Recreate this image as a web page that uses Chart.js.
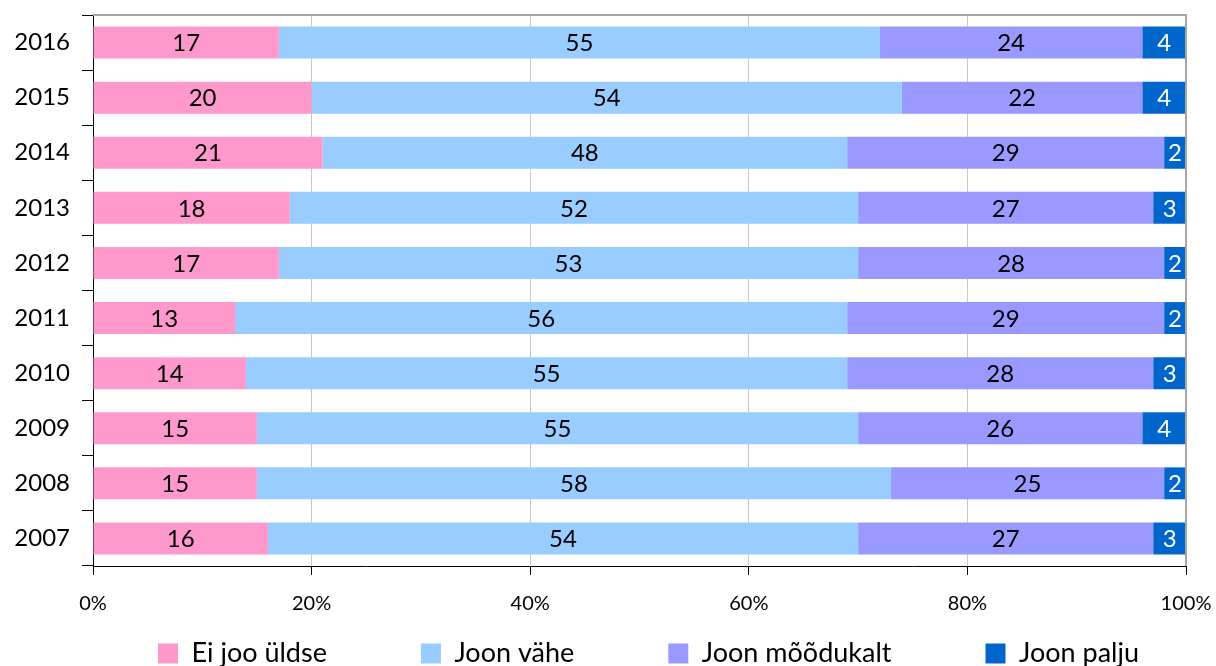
<!DOCTYPE html>
<html>
<head>
<meta charset="utf-8">
<script src="https://cdn.jsdelivr.net/npm/chart.js@4/dist/chart.umd.min.js"></script>
<style>
html,body{margin:0;padding:0;overflow:hidden;background:#fff;width:1216px;height:666px}
#wrap{position:absolute;left:0;top:0;width:1400px;height:700px}
</style>
</head>
<body>
<div id="wrap"><canvas id="c" width="1400" height="700"></canvas></div>
<script>
// ---- data ----
const years = ['2016','2015','2014','2013','2012','2011','2010','2009','2008','2007'];
const eiJooUldse    = [17, 20, 21, 18, 17, 13, 14, 15, 15, 16];
const joonVahe      = [55, 54, 48, 52, 53, 56, 55, 55, 58, 54];
const joonMoodukalt = [24, 22, 29, 27, 28, 29, 28, 26, 25, 27];
const joonPalju     = [ 4,  4,  2,  3,  2,  2,  3,  4,  2,  3];
const seriesNames   = ['Ei joo üldse', 'Joon vähe', 'Joon mõõdukalt', 'Joon palju'];
const seriesColors  = ['#FF99CC', '#99CCFF', '#9999FF', '#0066CC'];
const labelColors   = ['#000000', '#000000', '#000000', '#FFFFFF'];
const xTickValues   = [0, 20, 40, 60, 80, 100];

// ---- layout constants ----
const FONT = 'Lato, Carlito, Calibri, sans-serif';
const LEGEND_BOX_X = 158;
const LEGEND_ITEM_Y = 640;

Chart.defaults.font.family = FONT;
Chart.defaults.color = '#000';

const seriesData = [eiJooUldse, joonVahe, joonMoodukalt, joonPalju];

const barLabels = {
  id: 'barLabels',
  afterDatasetsDraw(chart) {
    const ctx = chart.ctx;
    const area = chart.chartArea;
    // plot frame (top & right)
    ctx.save();
    ctx.strokeStyle = '#a6a6a6';
    ctx.lineWidth = 2;
    ctx.beginPath();
    ctx.moveTo(area.left, area.top);
    ctx.lineTo(area.right, area.top);
    ctx.lineTo(area.right, area.bottom);
    ctx.stroke();
    ctx.restore();

    ctx.save();
    ctx.font = '24px ' + FONT;
    ctx.textAlign = 'center';
    ctx.textBaseline = 'middle';
    chart.data.datasets.forEach((ds, i) => {
      const meta = chart.getDatasetMeta(i);
      meta.data.forEach((bar, j) => {
        ctx.fillStyle = labelColors[i];
        ctx.fillText(String(ds.data[j]), (bar.x + bar.base) / 2, bar.y + 1);
      });
    });
    ctx.restore();
  }
};

const legendPlace = {
  id: 'legendPlace',
  afterLayout(chart) {
    const lg = chart.legend;
    if (!lg || !lg.lineWidths) return;
    const pad = lg.options.labels.padding;
    const R = 5000;
    const lw = lg.lineWidths[0];
    const left = (2 * LEGEND_BOX_X - pad - R + lw) / 2;
    lg.left = left;
    lg.right = left + R;
    lg.top = LEGEND_ITEM_Y - pad;
    lg.bottom = lg.top + pad + 60;
  }
};

new Chart(document.getElementById('c'), {
  type: 'bar',
  data: {
    labels: years,
    datasets: seriesNames.map((name, i) => ({
      label: name,
      data: seriesData[i],
      backgroundColor: seriesColors[i],
      borderWidth: 0,
      categoryPercentage: 1,
      barPercentage: 0.58
    }))
  },
  options: {
    indexAxis: 'y',
    responsive: false,
    animation: false,
    devicePixelRatio: 1,
    layout: { padding: { top: 15, left: 0, right: 0, bottom: 0 } },
    plugins: {
      tooltip: { enabled: false },
      legend: {
        position: 'bottom',
        maxHeight: 40,
        labels: {
          font: { size: 27, family: FONT },
          color: '#000',
          boxWidth: 20,
          boxHeight: 20,
          padding: 94
        }
      }
    },
    scales: {
      x: {
        type: 'linear',
        stacked: true,
        min: 0,
        max: 100,
        afterBuildTicks: s => { s.ticks = xTickValues.map(v => ({ value: v })); },
        afterFit: s => { s.height = 700 - 40 - 566; s.paddingLeft = 0; s.paddingRight = 0; },
        ticks: {
          callback: v => v + '%',
          font: { size: 20, family: FONT },
          color: '#000',
          padding: 17,
          maxRotation: 0
        },
        grid: { color: '#c8c8c8', tickColor: '#000', tickLength: 9, lineWidth: 1 },
        border: { color: '#000', width: 1 }
      },
      y: {
        type: 'category',
        stacked: true,
        position: 'left',
        afterFit: s => { s.width = 93; s.paddingTop = 0; s.paddingBottom = 0; },
        ticks: { font: { size: 24, family: FONT }, color: '#000', padding: 12 },
        grid: { offset: true, drawOnChartArea: false, tickColor: '#000', tickLength: 11 },
        border: { color: '#000', width: 1 }
      },
      yR: {
        type: 'category',
        position: 'right',
        afterFit: s => { s.width = 1400 - 1186; s.paddingTop = 0; s.paddingBottom = 0; },
        ticks: { display: false },
        grid: { display: false, drawTicks: false },
        border: { display: false }
      }
    }
  },
  plugins: [barLabels, legendPlace]
});
</script>
</body>
</html>
